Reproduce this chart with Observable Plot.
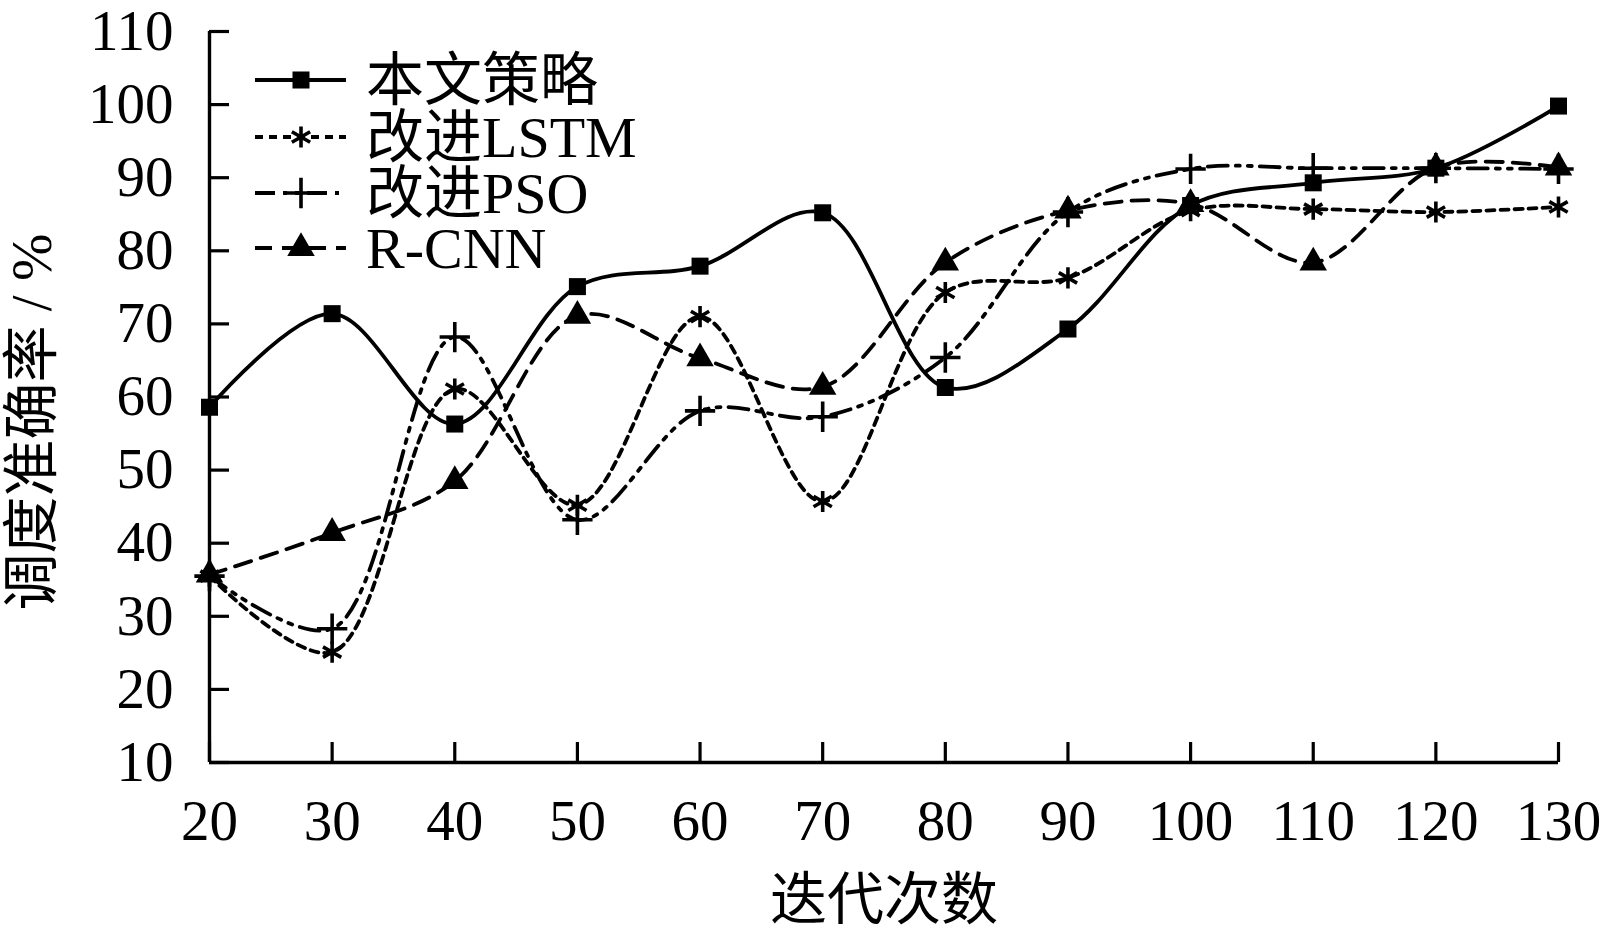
<!DOCTYPE html>
<html><head><meta charset="utf-8">
<script src="https://cdn.jsdelivr.net/npm/d3@7"></script>
<script src="https://cdn.jsdelivr.net/npm/@observablehq/plot@0.6"></script>
<style>
html,body{margin:0;padding:0;background:#fff;}
#wrap{position:relative;width:1602px;height:931px;overflow:hidden;}
#legend{position:absolute;left:0;top:0;pointer-events:none;}
</style></head><body><div id="wrap"></div>
<script>
// ---- data ----
const iterations = [20, 30, 40, 50, 60, 70, 80, 90, 100, 110, 120, 130];
const seriesNames = ["本文策略", "改进LSTM", "改进PSO", "R-CNN"];
const oursValues = [58.6, 71.4, 56.3, 75.1, 77.9, 85.2, 61.3, 69.3, 86.2, 89.3, 91.3, 99.8];
const lstmValues = [35.5, 25.1, 61.1, 45.2, 71.0, 45.7, 74.3, 76.3, 85.5, 85.7, 85.3, 86.0];
const psoValues  = [35.5, 28.3, 68.2, 43.2, 58.1, 57.3, 65.4, 85.3, 91.2, 91.3, 91.3, 91.2];
const rcnnValues = [35.7, 41.4, 48.5, 71.1, 65.3, 61.4, 78.4, 85.5, 86.4, 78.4, 91.4, 91.4];
const xTicks = [20, 30, 40, 50, 60, 70, 80, 90, 100, 110, 120, 130];
const yTicks = [10, 20, 30, 40, 50, 60, 70, 80, 90, 100, 110];
const xTitle = "迭代次数";
const yTitle = "调度准确率 / %";

// ---- styling ----
const FONT = '"Liberation Serif","Times New Roman","Noto Sans CJK SC",serif';
const FS = 57;
const LW = 3.8;
const styles = [
  {name: seriesNames[0], values: oursValues, dash: null, symbol: "square", r: 9.6, filled: true},
  {name: seriesNames[1], values: lstmValues, dash: "8,6", symbol: "asterisk", r: 10, filled: false},
  {name: seriesNames[2], values: psoValues, dash: "20,8,4,8,4,8", symbol: "plus", r: 9.8, filled: false},
  {name: seriesNames[3], values: rcnnValues, dash: "17,10", symbol: "triangle", r: 10.2, filled: true}
];

const lineMarks = [];
const dotMarks = [];
for (const s of styles) {
  const data = iterations.map((x, i) => ({x, y: s.values[i]}));
  const lo = {x: "x", y: "y", curve: "catmull-rom", stroke: "black", strokeWidth: LW};
  if (s.dash) lo.strokeDasharray = s.dash;
  lineMarks.push(Plot.line(data, lo));
  dotMarks.push(Plot.dot(data, s.filled
    ? {x: "x", y: "y", symbol: s.symbol, r: s.r, fill: "black", stroke: "none"}
    : {x: "x", y: "y", symbol: s.symbol, r: s.r, fill: "none", stroke: "black", strokeWidth: 3.6}));
}

const chart = Plot.plot({
  width: 1602, height: 931,
  marginLeft: 209, marginRight: 44, marginTop: 31, marginBottom: 169,
  x: {domain: [20, 130]},
  y: {domain: [10, 110]},
  style: {fontFamily: FONT, fontSize: FS + "px", color: "black", background: "white", overflow: "visible"},
  marks: [
    Plot.axisY(yTicks, {tickSize: -20, tickPadding: 56, strokeWidth: 3.2, fontSize: FS, label: null}),
    Plot.axisX(xTicks, {tickSize: -20, tickPadding: 57, strokeWidth: 3.2, fontSize: FS, label: null}),
    Plot.ruleX([20], {strokeWidth: 3.4}),
    Plot.ruleY([10], {strokeWidth: 3.4}),
    ...lineMarks,
    ...dotMarks,
    Plot.text([xTitle], {text: d => d, frameAnchor: "bottom", dy: 138, fontSize: FS, lineAnchor: "middle", textAnchor: "middle"}),
    Plot.text([yTitle], {text: d => d, frameAnchor: "left", rotate: -90, dx: -177, dy: 25, fontSize: FS, lineAnchor: "middle", textAnchor: "middle"})
  ]
});
const wrap = document.getElementById("wrap");
wrap.appendChild(chart);

// ---- legend overlay ----
const lg = d3.select(wrap).append("svg").attr("id", "legend")
  .attr("width", 1602).attr("height", 931);
const rowY = [80, 137, 193, 248];
const symMap = {square: d3.symbolSquare, asterisk: d3.symbolAsterisk, plus: d3.symbolPlus, triangle: d3.symbolTriangle};
styles.forEach((s, i) => {
  const g = lg.append("g").attr("transform", `translate(0,${rowY[i]})`);
  const ln = g.append("line").attr("x1", 255).attr("x2", 346).attr("y1", 0).attr("y2", 0)
    .attr("stroke", "black").attr("stroke-width", LW);
  if (s.dash) ln.attr("stroke-dasharray", s.dash);
  const p = d3.symbol(symMap[s.symbol], Math.PI * s.r * s.r)();
  const sp = g.append("path").attr("d", p).attr("transform", "translate(301,0)");
  if (s.filled) sp.attr("fill", "black"); else sp.attr("fill", "none").attr("stroke", "black").attr("stroke-width", 3.6);
  g.append("text").attr("x", 366).attr("y", 0).attr("dy", "0.35em")
    .style("font-family", FONT).style("font-size", "58px").text(s.name);
});
</script></body></html>
